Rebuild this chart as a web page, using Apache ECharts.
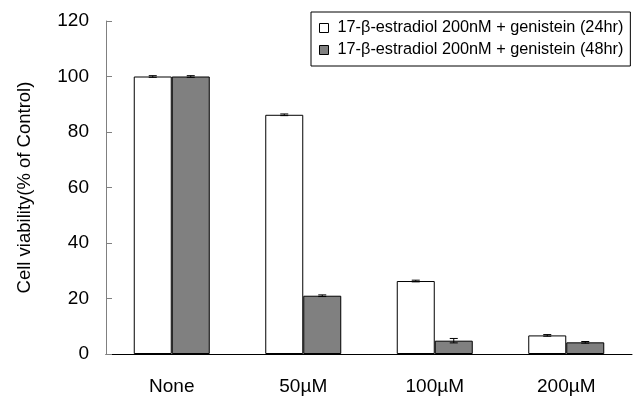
<!DOCTYPE html>
<html>
<head>
<meta charset="utf-8">
<script src="https://cdn.jsdelivr.net/npm/echarts@6/dist/echarts.min.js"></script>
<style>html,body{margin:0;padding:0;background:#fff}#c{width:634px;height:396px}</style>
</head>
<body>
<div id="c"></div>
<script>
var categories = ['None', '50\u00b5M', '100\u00b5M', '200\u00b5M'];
var seriesNames = ['17-\u03b2-estradiol 200nM + genistein (24hr)', '17-\u03b2-estradiol 200nM + genistein (48hr)'];
var values24 = [100, 86.2, 26.3, 6.7];
var values48 = [100, 21.0, 4.8, 4.2];
var err24 = [0.3, 0.3, 0.3, 0.3];
var err48 = [0.3, 0.3, 0.8, 0.3];
var yTicks = [0, 20, 40, 60, 80, 100, 120];

var FONT = 'Liberation Sans, Arial, sans-serif';
var BAR_W = 38;

function errSeries(vals, errs, offset) {
  return {
    type: 'custom',
    silent: true,
    z: 5,
    data: vals.map(function (v, i) { return [i, v, errs[i]]; }),
    renderItem: function (params, api) {
      var i = api.value(0), v = api.value(1), e = api.value(2);
      var top = api.coord([i, v + e]);
      var bot = api.coord([i, v - e]);
      var x = top[0] + offset;
      var cap = 4;
      var st = { stroke: '#000', lineWidth: 1 };
      return {
        type: 'group',
        children: [
          { type: 'line', shape: { x1: x, y1: top[1], x2: x, y2: bot[1] }, style: st },
          { type: 'line', shape: { x1: x - cap, y1: top[1], x2: x + cap, y2: top[1] }, style: st },
          { type: 'line', shape: { x1: x - cap, y1: bot[1], x2: x + cap, y2: bot[1] }, style: st }
        ]
      };
    }
  };
}

var chart = echarts.init(document.getElementById('c'));
chart.setOption({
  animation: false,
  backgroundColor: '#fff',
  grid: { left: 106, right: 2, top: 21, bottom: 42, containLabel: false },
  legend: {
    left: 311, top: 12,
    orient: 'vertical',
    data: seriesNames,
    icon: 'rect',
    itemWidth: 9, itemHeight: 9,
    itemGap: 6,
    padding: [8, 7, 8, 8],
    borderColor: '#000', borderWidth: 1,
    textStyle: { fontFamily: FONT, fontSize: 16.3, lineHeight: 16, color: '#000', padding: [0, 0, 0, 4] },
    itemStyle: { borderColor: '#000', borderWidth: 1 }
  },
  xAxis: {
    type: 'category',
    data: categories,
    axisLine: { lineStyle: { color: '#000', width: 1 } },
    axisTick: { inside: true, length: 6, alignWithLabel: false, lineStyle: { color: '#000' } },
    axisLabel: { fontFamily: FONT, fontSize: 19, color: '#000', margin: 23 }
  },
  yAxis: {
    type: 'value',
    min: yTicks[0], max: yTicks[yTicks.length - 1], interval: 20,
    name: 'Cell viability(% of Control)',
    nameLocation: 'middle',
    nameGap: 72,
    nameTextStyle: { fontFamily: FONT, fontSize: 18.5, color: '#000' },
    axisLine: { show: true, lineStyle: { color: '#808080', width: 1 } },
    axisTick: { show: true, inside: true, length: 6, lineStyle: { color: '#808080' } },
    axisLabel: { fontFamily: FONT, fontSize: 19, color: '#000', margin: 17 },
    splitLine: { show: false }
  },
  series: [
    {
      name: seriesNames[0], type: 'bar', data: values24,
      barWidth: BAR_W, barGap: '0%',
      itemStyle: { color: '#ffffff', borderColor: '#000', borderWidth: 1 }
    },
    {
      name: seriesNames[1], type: 'bar', data: values48,
      barWidth: BAR_W, barGap: '0%',
      itemStyle: { color: '#808080', borderColor: '#000', borderWidth: 1 }
    },
    errSeries(values24, err24, -BAR_W / 2),
    errSeries(values48, err48, BAR_W / 2)
  ]
});
</script>
</body>
</html>
